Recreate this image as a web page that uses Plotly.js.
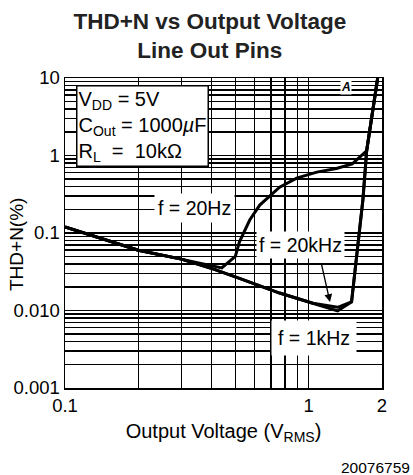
<!DOCTYPE html>
<html>
<head>
<meta charset="utf-8">
<script src="https://cdn.plot.ly/plotly-3.0.1.min.js"></script>
<style>
html,body{margin:0;padding:0;background:#fff;}
#chart{width:413px;height:475px;}
</style>
</head>
<body>
<div id="chart"></div>
<script>
// Output voltage (V RMS) and THD+N (%)
var v20Hz   = [0.1, 0.2, 0.3, 0.44, 0.5, 0.52, 0.573, 0.63, 0.76, 0.893, 1.08, 1.3, 1.51, 1.73, 1.92];
var thd20Hz = [0.12, 0.060, 0.046, 0.0354, 0.05, 0.077, 0.147, 0.229, 0.39, 0.51, 0.61, 0.68, 0.78, 1.15, 10];

var v1kHz   = [0.1, 0.2, 0.3, 0.41, 0.52, 0.76, 1.04, 1.315, 1.50, 1.67, 1.73, 1.92];
var thd1kHz = [0.12, 0.060, 0.046, 0.034, 0.026, 0.0168, 0.0124, 0.0110, 0.0129, 0.27, 1.15, 10];

var v20kHz   = [0.1, 0.2, 0.3, 0.41, 0.52, 0.76, 1.04, 1.315, 1.50, 1.67, 1.73, 1.92];
var thd20kHz = [0.12, 0.060, 0.046, 0.034, 0.026, 0.0168, 0.0124, 0.0099, 0.0129, 0.27, 1.15, 10];

// labelled ticks
var xTickVals = [0.1, 1, 2];
var xTickText = ['0.1', '1', '2'];
var yTickVals = [0.001, 0.01, 0.1, 1, 10];
var yTickText = ['0.001', '0.010', '0.1', '1', '10'];

// unlabelled grid lines
var xMinorVals = [0.2, 0.3, 0.4, 0.5, 0.6, 0.7, 0.8, 0.9];
var yMinorVals = [0.002, 0.003, 0.004, 0.005, 0.006, 0.007, 0.008, 0.009,
                  0.02, 0.03, 0.04, 0.05, 0.06, 0.07, 0.08, 0.09,
                  0.2, 0.3, 0.4, 0.5, 0.6, 0.7, 0.8, 0.9,
                  2, 3, 4, 5, 6, 7, 8, 9];

var FONT = 'Liberation Sans, Arial, Helvetica, sans-serif';
var lineStyle = {color: '#000', width: 3};
var GRID = '#000', GRIDW = 1.4;

var traces = [
  {x: v20Hz, y: thd20Hz, name: 'f = 20Hz', mode: 'lines', line: lineStyle},
  {x: v1kHz, y: thd1kHz, name: 'f = 1kHz', mode: 'lines', line: lineStyle},
  {x: v20kHz, y: thd20kHz, name: 'f = 20kHz', mode: 'lines', line: lineStyle}
];

function px(xp) { return (xp - 65) / 317; }
function py(yp) { return (388 - yp) / 310; }

var layout = {
  width: 413, height: 475,
  margin: {l: 65, r: 31, t: 78, b: 87},
  paper_bgcolor: '#fff', plot_bgcolor: '#fff',
  showlegend: false,
  font: {family: FONT, size: 18, color: '#000'},
  title: {
    text: '<b>THD+N vs Output Voltage</b><br><b>Line Out Pins</b>',
    font: {family: FONT, size: 22.5, color: '#222'},
    x: 0.508, xanchor: 'center', y: 0.94, yanchor: 'top'
  },
  xaxis: {
    type: 'log', range: [-1, Math.log10(2)],
    tickmode: 'array', tickvals: xTickVals, ticktext: xTickText,
    showgrid: true, gridcolor: GRID, gridwidth: GRIDW,
    minor: {tickmode: 'array', tickvals: xMinorVals, showgrid: true, gridcolor: GRID, gridwidth: GRIDW, ticks: ''},
    showline: true, linecolor: '#000', linewidth: 1.5, mirror: true,
    ticks: '', zeroline: false,
    tickfont: {family: FONT, size: 18.5, color: '#000'},
    title: {text: 'Output Voltage (V<sub>RMS</sub>)', font: {family: FONT, size: 20, color: '#000'}, standoff: 9}
  },
  yaxis: {
    type: 'log', range: [-3, 1],
    tickmode: 'array', tickvals: yTickVals, ticktext: yTickText,
    showgrid: true, gridcolor: GRID, gridwidth: GRIDW,
    minor: {tickmode: 'array', tickvals: yMinorVals, showgrid: true, gridcolor: GRID, gridwidth: GRIDW, ticks: ''},
    showline: true, linecolor: '#000', linewidth: 1.5, mirror: true,
    ticks: '', zeroline: false,
    tickfont: {family: FONT, size: 18.5, color: '#000'}
  },
  annotations: [
    {xref: 'paper', yref: 'paper', x: -65 / 317 + 16 / 317, y: py(245), xanchor: 'center', yanchor: 'middle',
     text: 'THD+N(%)', textangle: -90, showarrow: false,
     font: {family: FONT, size: 19, color: '#000'}},
    {xref: 'paper', yref: 'paper', x: px(76), y: py(85), xanchor: 'left', yanchor: 'top',
     text: 'V<sub>DD</sub> = 5V<br>C<sub>Out</sub> = 1000<i>µ</i>F<br>R<sub>L</sub>  =  10kΩ',
     align: 'left', showarrow: false, bgcolor: '#fff', bordercolor: '#000', borderwidth: 1.5, borderpad: 1,
     font: {family: FONT, size: 20, color: '#000'}},
    {xref: 'paper', yref: 'paper', x: px(194), y: py(208), xanchor: 'center', yanchor: 'middle',
     text: 'f = 20Hz', showarrow: false, bgcolor: '#fff', borderpad: 3,
     font: {family: FONT, size: 19.5, color: '#000'}},
    {xref: 'paper', yref: 'paper', x: px(300), y: py(245), xanchor: 'center', yanchor: 'middle',
     text: 'f = 20kHz', showarrow: false, bgcolor: '#fff', borderpad: 2,
     font: {family: FONT, size: 19.5, color: '#000'}},
    {xref: 'paper', yref: 'paper', x: px(314), y: py(338), xanchor: 'center', yanchor: 'middle',
     text: 'f = 1kHz', showarrow: false, bgcolor: '#fff', borderpad: 6,
     font: {family: FONT, size: 19.5, color: '#000'}},
    {xref: 'paper', yref: 'paper', x: px(330), y: py(302), text: '', showarrow: true,
     arrowhead: 2, arrowsize: 1.2, arrowwidth: 1.3, arrowcolor: '#000', ax: -9, ay: -40},
    {xref: 'paper', yref: 'paper', x: px(346), y: py(87), xanchor: 'center', yanchor: 'middle',
     text: '<b><i>A</i></b>', showarrow: false, bgcolor: '#fff', borderpad: 0,
     font: {family: FONT, size: 12, color: '#000'}},
    {xref: 'paper', yref: 'paper', x: px(412), y: py(467), xanchor: 'right', yanchor: 'middle',
     text: '20076759', showarrow: false, font: {family: FONT, size: 15.5, color: '#000'}}
  ]
};

Plotly.newPlot('chart', traces, layout, {displayModeBar: false, staticPlot: true});
</script>
</body>
</html>
